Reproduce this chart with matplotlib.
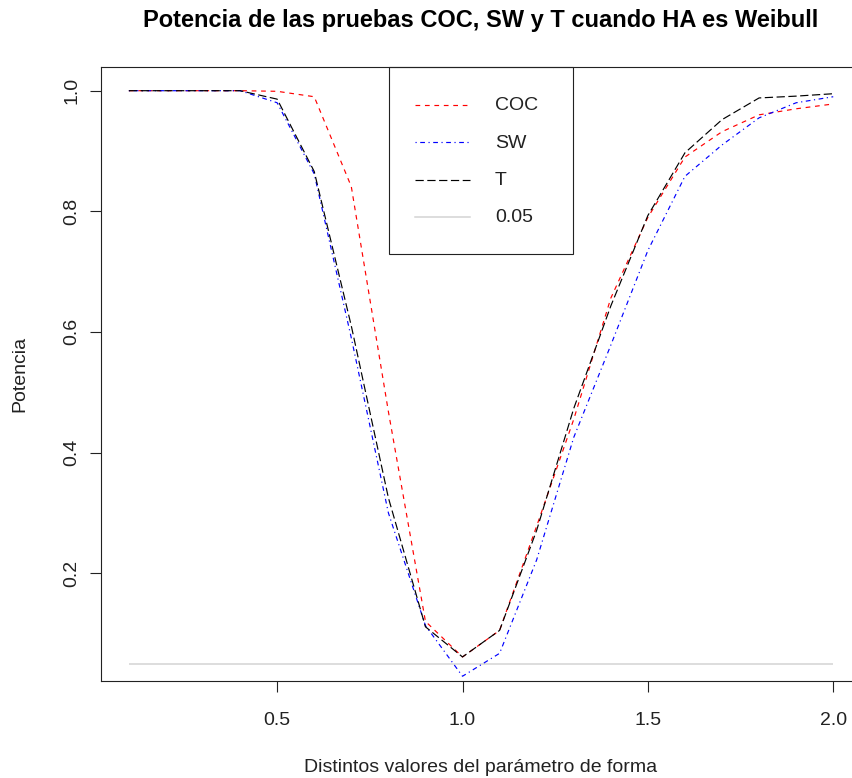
import matplotlib
matplotlib.use("Agg")
import matplotlib.pyplot as plt
from matplotlib.lines import Line2D
from matplotlib.patches import Rectangle

plt.rcParams['font.family'] = ['Liberation Sans', 'DejaVu Sans']

# ---- data ----
shape = [0.1, 0.2, 0.3, 0.4, 0.5, 0.6, 0.7, 0.8, 0.9, 1.0,
         1.1, 1.2, 1.3, 1.4, 1.5, 1.6, 1.7, 1.8, 1.9, 2.0]
coc = [1.0, 1.0, 1.0, 1.0, 0.999, 0.99, 0.841, 0.468, 0.12, 0.061,
       0.105, 0.278, 0.455, 0.656, 0.79, 0.89, 0.932, 0.96, 0.97, 0.978]
sw = [1.0, 1.0, 1.0, 1.0, 0.98, 0.862, 0.59, 0.30, 0.113, 0.029,
      0.067, 0.222, 0.425, 0.578, 0.735, 0.858, 0.91, 0.955, 0.98, 0.99]
t = [1.0, 1.0, 1.0, 1.0, 0.986, 0.866, 0.61, 0.325, 0.111, 0.061,
     0.105, 0.271, 0.473, 0.643, 0.793, 0.897, 0.952, 0.988, 0.991, 0.995]
alpha = 0.05
labels = ["COC", "SW", "T", "0.05"]
colors = ["red", "blue", "black", "#d3d3d3"]
xticks = [0.5, 1.0, 1.5, 2.0]
yticks = [0.2, 0.4, 0.6, 0.8, 1.0]

W, H = 853, 778
def fx(px): return px / W
def fy(py): return 1 - py / H

FS = 14
fig = plt.figure(figsize=(W / 100, H / 100), dpi=100)
L, R, T, B = 100.7, 861.4, 66.7, 681.3
ax = fig.add_axes([fx(L), fy(B), (R - L) / W, (B - T) / H])
ax.set_xlim(0.024, 2.076)
ax.set_ylim(0.0206, 1.0398)

lw = 0.85
styles = [dict(dashes=(4, 4)), dict(dashes=(1, 3, 4, 3)), dict(dashes=(7, 3))]
series = [coc, sw, t]
ax.hlines(alpha, shape[0], shape[-1], colors=colors[3], lw=1.1, zorder=1)
for s, c, st in zip(series, colors[:3], styles):
    ax.plot(shape, s, color=c, lw=lw, zorder=2, **st)

for sp in ax.spines.values():
    sp.set_linewidth(0.8)
    sp.set_color('#222222')

ax.set_xticks(xticks)
ax.set_xticklabels([f"{v:.1f}" for v in xticks])
ax.set_yticks(yticks)
ax.set_yticklabels([f"{v:.1f}" for v in yticks])
ax.tick_params(axis='both', length=7.9, width=0.8, color='#222222',
               labelsize=FS, labelcolor='#222222')
ax.tick_params(axis='x', pad=14)
ax.tick_params(axis='y', pad=7)
for lab in ax.get_yticklabels():
    lab.set_rotation(90)
    lab.set_va('center')
    lab.set_ha('right')

ax.set_xlabel("Distintos valores del parámetro de forma", fontsize=FS,
              color='#222222', va='center')
ax.xaxis.set_label_coords((481 - L) / (R - L), (B - 767) / (B - T))
ax.set_ylabel("Potencia", fontsize=FS, color='#222222', va='center')
ax.yaxis.set_label_coords((20 - L) / (R - L), 0.5)

fig.text(fx(481), fy(21), "Potencia de las pruebas COC, SW y T cuando HA es Weibull",
         ha='center', va='center', fontsize=17, fontweight='bold')

# legend (manual, R-style)
fig.add_artist(Rectangle((fx(389.3), fy(254.3)), (573.3 - 389.3) / W, (254.3 - 66.7) / H,
                         transform=fig.transFigure, fill=False, lw=0.8, ec='#222222'))
leg_styles = styles + [dict()]
for i, (lab, c, st) in enumerate(zip(labels, colors, leg_styles)):
    yy = 105.0 + i * 37.3
    fig.add_artist(Line2D([fx(415), fx(470)], [fy(yy), fy(yy)], transform=fig.transFigure,
                          color=c, lw=lw if i < 3 else 1.1, **st))
    fig.text(fx(495), fy(yy + 1), lab, ha='left', va='center', fontsize=FS, color='#222222')

fig.savefig("out.png", dpi=100)
